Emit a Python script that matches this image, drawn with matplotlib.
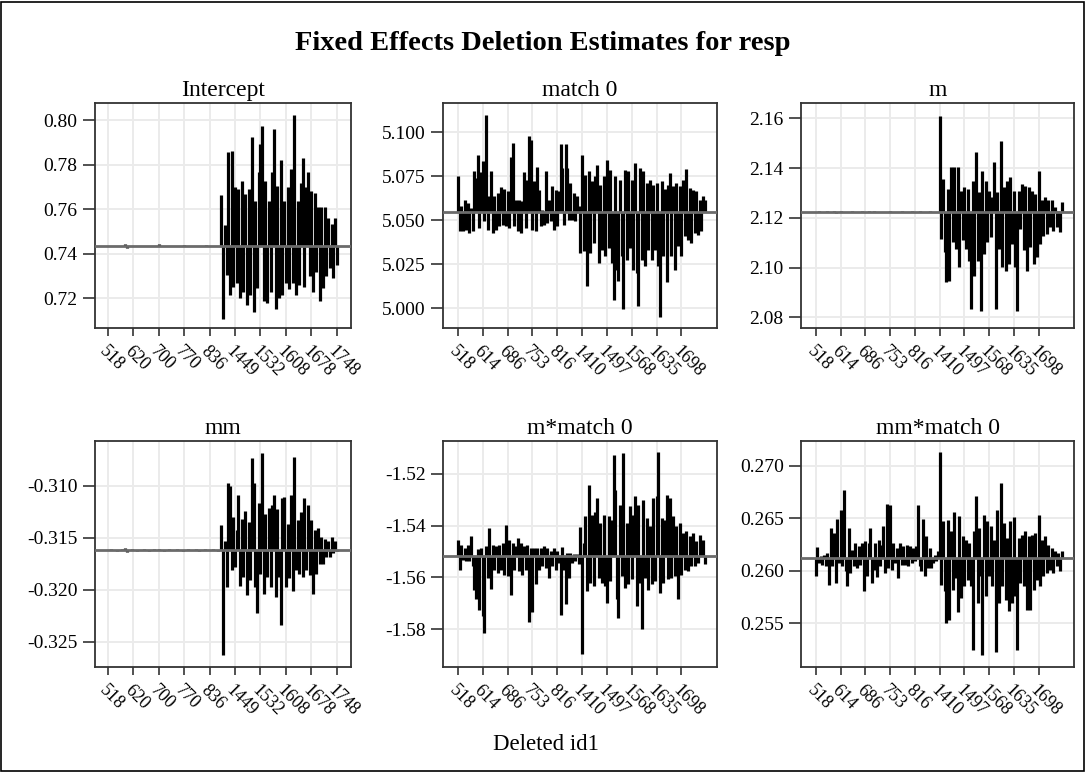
import numpy as np
import matplotlib
matplotlib.use("Agg")
import matplotlib.pyplot as plt
from matplotlib.patches import Rectangle

plt.rcParams['font.family'] = ['Liberation Serif', 'DejaVu Serif']

# estimates from the full data (reference lines)
full_est = [0.7435, 5.0545, 2.1225, -0.31615, -1.5516, 0.26121]
panel_titles = ['Intercept', 'match 0', 'm', 'mm', 'm*match 0', 'mm*match 0']

# id1 labels shown on the x axes (every 15th deleted id)
ids_left = ['518', '620', '700', '770', '836', '1449', '1532', '1608', '1678', '1748']
ids_right = ['518', '614', '686', '753', '816', '1410', '1497', '1568', '1635', '1698']

yticks_intercept = [0.72, 0.74, 0.76, 0.78, 0.80]
yticks_match0 = [5.000, 5.025, 5.050, 5.075, 5.100]
yticks_m = [2.08, 2.10, 2.12, 2.14, 2.16]
yticks_mm = [-0.325, -0.320, -0.315, -0.310]
yticks_m_match0 = [-1.58, -1.56, -1.54, -1.52]
yticks_mm_match0 = [0.255, 0.260, 0.265, 0.270]

# deletion estimates, one per deleted id1 in sort order
est_intercept = [
    0.7435, 0.7435, 0.7436, 0.7435, 0.7434, 0.7435, 0.7435, 0.7436, 0.7435, 0.7435,
    0.7446, 0.7426, 0.7436, 0.7435, 0.7434, 0.7435, 0.7435, 0.7436, 0.7435, 0.7435,
    0.7435, 0.7434, 0.7436, 0.7435, 0.7435, 0.7435, 0.7434, 0.7435, 0.7436, 0.7435,
    0.7443, 0.7435, 0.7434, 0.7435, 0.7435, 0.7436, 0.7435, 0.7434, 0.7435, 0.7435,
    0.7437, 0.7435, 0.7435, 0.7434, 0.7435, 0.7439, 0.7435, 0.7436, 0.7435, 0.7434,
    0.7435, 0.7435, 0.7436, 0.7435, 0.7434, 0.7435, 0.7435, 0.7435, 0.7440, 0.7435,
    0.7435, 0.7434, 0.7435, 0.7436, 0.7435, 0.7435, 0.7435,
    0.7665, 0.7108, 0.7530, 0.7307, 0.7857, 0.7216, 0.7861, 0.7250, 0.7700, 0.7270,
    0.7690, 0.7200, 0.7729, 0.7230, 0.7668, 0.7170, 0.7691, 0.7216, 0.7925, 0.7140,
    0.7638, 0.7246, 0.7766, 0.7895, 0.7973, 0.7186, 0.7729, 0.7180, 0.7638, 0.7230,
    0.7766, 0.7962, 0.7151, 0.7706, 0.7200, 0.7819, 0.7216, 0.7638, 0.7269, 0.7699,
    0.7240, 0.7782, 0.7269, 0.8023, 0.7216, 0.7638, 0.7260, 0.7720, 0.7831, 0.7250,
    0.7699, 0.7766, 0.7300, 0.7683, 0.7230, 0.7675, 0.7320, 0.7608, 0.7190, 0.7608,
    0.7246, 0.7611, 0.7300, 0.7563, 0.7337, 0.7533, 0.7290, 0.7563, 0.7352,
]

est_match0 = [
    5.0750, 5.0437, 5.0583, 5.0437, 5.0614, 5.0447, 5.0598, 5.0428, 5.0570, 5.0437,
    5.0778, 5.0741, 5.0873, 5.0456, 5.0773, 5.0835, 5.0494, 5.1100, 5.0447, 5.0636,
    5.0782, 5.0428, 5.0636, 5.0447, 5.0655, 5.0466, 5.0689, 5.0475, 5.0678, 5.0466,
    5.0665, 5.0456, 5.0860, 5.0939, 5.0466, 5.0617, 5.0437, 5.0617, 5.0428, 5.0608,
    5.0773, 5.0456, 5.0731, 5.0977, 5.0958, 5.0447, 5.0725, 5.0437, 5.0801, 5.0674,
    5.0466, 5.0561, 5.0475, 5.0778, 5.0485, 5.0617, 5.0494, 5.0693, 5.0447, 5.0674,
    5.0466, 5.0665, 5.0934, 5.0797, 5.0475, 5.0936, 5.0797, 5.0504, 5.0712, 5.0504,
    5.0655, 5.0494, 5.0636, 5.0580, 5.0314, 5.0873, 5.0324, 5.0759, 5.0125, 5.0778,
    5.0314, 5.0722, 5.0371, 5.0750, 5.0816, 5.0258, 5.0703, 5.0333, 5.0750, 5.0295,
    5.0845, 5.0343, 5.0788, 5.0258, 5.0049, 5.0750, 5.0220, 5.0153, 5.0731, 5.0295,
    4.9996, 5.0788, 5.0277, 5.0778, 5.0343, 5.0731, 5.0220, 5.0826, 5.0201, 5.0011,
    5.0797, 5.0277, 5.0778, 5.0239, 5.0712, 5.0333, 5.0731, 5.0277, 5.0703, 5.0333,
    5.0712, 5.0239, 4.9951, 5.0722, 5.0295, 5.0678, 5.0148, 5.0703, 5.0769, 5.0295,
    5.0697, 5.0220, 5.0712, 5.0352, 5.0693, 5.0295, 5.0731, 5.0409, 5.0794, 5.0390,
    5.0684, 5.0371, 5.0674, 5.0428, 5.0665, 5.0419, 5.0617, 5.0437, 5.0636, 5.0617,
]

est_m = [
    2.1225, 2.1225, 2.1226, 2.1225, 2.1224, 2.1225, 2.1225, 2.1226, 2.1225, 2.1225,
    2.1225, 2.1229, 2.1221, 2.1225, 2.1225, 2.1226, 2.1225, 2.1224, 2.1225, 2.1225,
    2.1225, 2.1224, 2.1226, 2.1225, 2.1225, 2.1225, 2.1224, 2.1225, 2.1226, 2.1225,
    2.1225, 2.1225, 2.1228, 2.1223, 2.1225, 2.1226, 2.1225, 2.1224, 2.1225, 2.1225,
    2.1225, 2.1225, 2.1225, 2.1224, 2.1225, 2.1226, 2.1225, 2.1225, 2.1225, 2.1224,
    2.1225, 2.1225, 2.1226, 2.1225, 2.1224, 2.1225, 2.1225, 2.1225, 2.1226, 2.1225,
    2.1225, 2.1224, 2.1225, 2.1226, 2.1225, 2.1225, 2.1225, 2.1224, 2.1225, 2.1226,
    2.1225, 2.1224, 2.1225, 2.1225, 2.1225,
    2.1611, 2.1116, 2.1357, 2.1062, 2.0941, 2.1317, 2.0948, 2.1404, 2.1102, 2.1404,
    2.1075, 2.1404, 2.1002, 2.1310, 2.1109, 2.1323, 2.1075, 2.1317, 2.1028, 2.0834,
    2.1350, 2.0968, 2.1464, 2.1028, 2.1303, 2.0827, 2.1390, 2.1055, 2.1350, 2.1102,
    2.1310, 2.1122, 2.1283, 2.1424, 2.0834, 2.1303, 2.1075, 2.1508, 2.1002, 2.1323,
    2.0988, 2.1350, 2.1015, 2.1363, 2.1095, 2.1310, 2.1002, 2.0827, 2.1310, 2.1156,
    2.1337, 2.1069, 2.1330, 2.0988, 2.1323, 2.1082, 2.1310, 2.1015, 2.1296, 2.1042,
    2.1390, 2.1095, 2.1270, 2.1129, 2.1283, 2.1136, 2.1270, 2.1162, 2.1272, 2.1149,
    2.1243, 2.1162, 2.1229, 2.1142, 2.1263,
]

est_mm = [
    -0.3162, -0.3162, -0.3161, -0.3162, -0.3162, -0.3163, -0.3162, -0.3162, -0.3161, -0.3162,
    -0.3160, -0.3164, -0.3162, -0.3162, -0.3161, -0.3162, -0.3162, -0.3163, -0.3162, -0.3162,
    -0.3162, -0.3161, -0.3162, -0.3162, -0.3163, -0.3162, -0.3162, -0.3161, -0.3162, -0.3162,
    -0.3161, -0.3162, -0.3162, -0.3163, -0.3162, -0.3162, -0.3161, -0.3162, -0.3162, -0.3162,
    -0.3162, -0.3161, -0.3162, -0.3162, -0.3163, -0.3162, -0.3162, -0.3161, -0.3162, -0.3162,
    -0.3162, -0.3162, -0.3161, -0.3162, -0.3163, -0.3162, -0.3162, -0.3161, -0.3162, -0.3162,
    -0.3162, -0.3162, -0.3161, -0.3162, -0.3162, -0.3163, -0.3162,
    -0.3138, -0.3263, -0.3153, -0.3197, -0.3097, -0.3100, -0.3181, -0.3130, -0.3178, -0.3143,
    -0.3109, -0.3196, -0.3132, -0.3188, -0.3124, -0.3205, -0.3135, -0.3191, -0.3073, -0.3097,
    -0.3197, -0.3222, -0.3117, -0.3185, -0.3069, -0.3204, -0.3127, -0.3188, -0.3121, -0.3197,
    -0.3119, -0.3109, -0.3207, -0.3122, -0.3188, -0.3234, -0.3112, -0.3111, -0.3197, -0.3137,
    -0.3189, -0.3109, -0.3201, -0.3072, -0.3181, -0.3133, -0.3185, -0.3125, -0.3188, -0.3112,
    -0.3181, -0.3119, -0.3186, -0.3133, -0.3204, -0.3143, -0.3185, -0.3141, -0.3175, -0.3149,
    -0.3175, -0.3151, -0.3169, -0.3153, -0.3169, -0.3149, -0.3165, -0.3153, -0.3163,
]

est_m_match0 = [
    -1.5454, -1.5570, -1.5473, -1.5531, -1.5486, -1.5537, -1.5473, -1.5537, -1.5439, -1.5557,
    -1.5647, -1.5685, -1.5492, -1.5724, -1.5486, -1.5749, -1.5814, -1.5480, -1.5602, -1.5409,
    -1.5644, -1.5473, -1.5570, -1.5480, -1.5582, -1.5473, -1.5570, -1.5467, -1.5589, -1.5396,
    -1.5595, -1.5454, -1.5666, -1.5467, -1.5570, -1.5480, -1.5448, -1.5576, -1.5467, -1.5589,
    -1.5480, -1.5570, -1.5473, -1.5772, -1.5486, -1.5734, -1.5486, -1.5627, -1.5486, -1.5570,
    -1.5486, -1.5557, -1.5480, -1.5563, -1.5486, -1.5602, -1.5499, -1.5557, -1.5486, -1.5570,
    -1.5499, -1.5544, -1.5747, -1.5482, -1.5570, -1.5704, -1.5505, -1.5602, -1.5505, -1.5544,
    -1.5508, -1.5537, -1.5508, -1.5550, -1.5406, -1.5895, -1.5467, -1.5364, -1.5653, -1.5242,
    -1.5621, -1.5358, -1.5634, -1.5349, -1.5293, -1.5602, -1.5390, -1.5621, -1.5358, -1.5634,
    -1.5698, -1.5364, -1.5615, -1.5377, -1.5126, -1.5261, -1.5685, -1.5756, -1.5319, -1.5595,
    -1.5120, -1.5640, -1.5390, -1.5627, -1.5326, -1.5608, -1.5358, -1.5287, -1.5711, -1.5319,
    -1.5621, -1.5798, -1.5300, -1.5602, -1.5370, -1.5647, -1.5403, -1.5627, -1.5293, -1.5615,
    -1.5287, -1.5117, -1.5659, -1.5370, -1.5621, -1.5377, -1.5281, -1.5608, -1.5293, -1.5602,
    -1.5364, -1.5595, -1.5403, -1.5685, -1.5390, -1.5589, -1.5428, -1.5570, -1.5422, -1.5576,
    -1.5441, -1.5557, -1.5428, -1.5557, -1.5460, -1.5544, -1.5435, -1.5473, -1.5454, -1.5550,
]

est_mm_match0 = [
    0.25946, 0.26225, 0.26073, 0.26136, 0.26057, 0.26152, 0.26041, 0.26168, 0.25867, 0.26406,
    0.26041, 0.26358, 0.25883, 0.26492, 0.26073, 0.26580, 0.26041, 0.26771, 0.25994, 0.25857,
    0.26406, 0.25978, 0.26200, 0.26041, 0.26263, 0.26025, 0.26231, 0.26057, 0.26263, 0.25803,
    0.26279, 0.25946, 0.26263, 0.26406, 0.25883, 0.26010, 0.26263, 0.25937, 0.26295, 0.26041,
    0.26247, 0.26422, 0.25978, 0.26637, 0.26025, 0.26628, 0.26010, 0.26263, 0.26073, 0.26216,
    0.25930, 0.26263, 0.26057, 0.26231, 0.26057, 0.26247, 0.26041, 0.26231, 0.26073, 0.26216,
    0.26089, 0.26231, 0.26628, 0.26041, 0.25994, 0.26492, 0.25946, 0.26327, 0.26025, 0.26216,
    0.26025, 0.26073, 0.26152, 0.26089, 0.26184, 0.27126, 0.25867, 0.26469, 0.25803, 0.25502,
    0.26485, 0.25534, 0.26374, 0.25819, 0.26564, 0.25930, 0.25604, 0.26517, 0.25740, 0.26327,
    0.25851, 0.26295, 0.25914, 0.26263, 0.25851, 0.25248, 0.26374, 0.26707, 0.25692, 0.26406,
    0.25946, 0.25201, 0.26526, 0.25756, 0.26469, 0.25946, 0.26422, 0.25851, 0.26295, 0.25223,
    0.26580, 0.25692, 0.26834, 0.25851, 0.26453, 0.25724, 0.26311, 0.25613, 0.26469, 0.25692,
    0.26511, 0.25756, 0.25242, 0.26311, 0.25883, 0.26342, 0.25851, 0.26374, 0.25629, 0.26327,
    0.25629, 0.26342, 0.25819, 0.26358, 0.25914, 0.26533, 0.25851, 0.26295, 0.25946, 0.26327,
    0.25978, 0.26247, 0.26010, 0.26216, 0.25978, 0.26184, 0.26041, 0.26168, 0.25994, 0.26184,
]

W, H = 1086, 773
fig = plt.figure(figsize=(W / 100, H / 100), dpi=100)

# outer frame of the graph
fig.add_artist(Rectangle((1 / W, 2 / H), (W - 3) / W, (H - 4) / H, transform=fig.transFigure,
                         fill=False, edgecolor='black', lw=1.2))

# panel boxes in pixels: left, top, right, bottom
cols = [(95, 351), (443, 717), (801, 1074)]
rows = [(103, 328), (441, 667)]

series = [est_intercept, est_match0, est_m, est_mm, est_m_match0, est_mm_match0]
yticks = [yticks_intercept, yticks_match0, yticks_m, yticks_mm, yticks_m_match0, yticks_mm_match0]
yfmt = ['%.2f', '%.3f', '%.2f', '%.3f', '%.2f', '%.3f']
ylims = [(0.7067, 0.8077), (4.9888, 5.1167), (2.0757, 2.1662),
         (-0.32743, -0.3057), (-1.5946, -1.5073), (0.25084, 0.27235)]

for k in range(6):
    r, c = divmod(k, 3)
    x0, x1 = cols[c]
    y0, y1 = rows[r]
    ax = fig.add_axes([x0 / W, 1 - y1 / H, (x1 - x0) / W, (y1 - y0) / H])

    vals = np.array(series[k])
    x = np.arange(len(vals))
    base = full_est[k]
    ax.vlines(x, base, vals, color='black', lw=2.3, zorder=2)
    ax.axhline(base, color='#6b6b6b', lw=2.0, zorder=3)

    labels = ids_left if c == 0 else ids_right
    ax.set_xticks(np.arange(len(labels)) * 15)
    ax.set_xticklabels(labels, rotation=-45, ha='left', va='top', rotation_mode='anchor')
    if c == 0:
        ax.set_xlim(-7.7, 143.5)
    else:
        ax.set_xlim(-9.0, 156.5)

    ax.set_yticks(yticks[k])
    ax.set_yticklabels([yfmt[k] % v for v in yticks[k]])
    ax.set_ylim(*ylims[k])

    ax.grid(True, color='#ebebeb', lw=1.4, zorder=0)
    ax.set_axisbelow(True)
    ax.tick_params(direction='out', width=1.1, labelsize=14, color='#222222')
    ax.tick_params(axis='y', length=8.5, pad=4)
    ax.tick_params(axis='x', labelsize=13, length=6, pad=5)
    for s in ax.spines.values():
        s.set_color('#333333')
        s.set_linewidth(1.3)
    ax.set_title(panel_titles[k], fontsize=17, pad=5)

fig.text(0.5, 1 - 43 / H, 'Fixed Effects Deletion Estimates for resp', ha='center', va='center',
         fontsize=20.5, fontweight='bold')
fig.text(546 / W, 1 - 745 / H, 'Deleted id1', ha='center', va='center', fontsize=16.5)

fig.savefig('out.png', dpi=100)
